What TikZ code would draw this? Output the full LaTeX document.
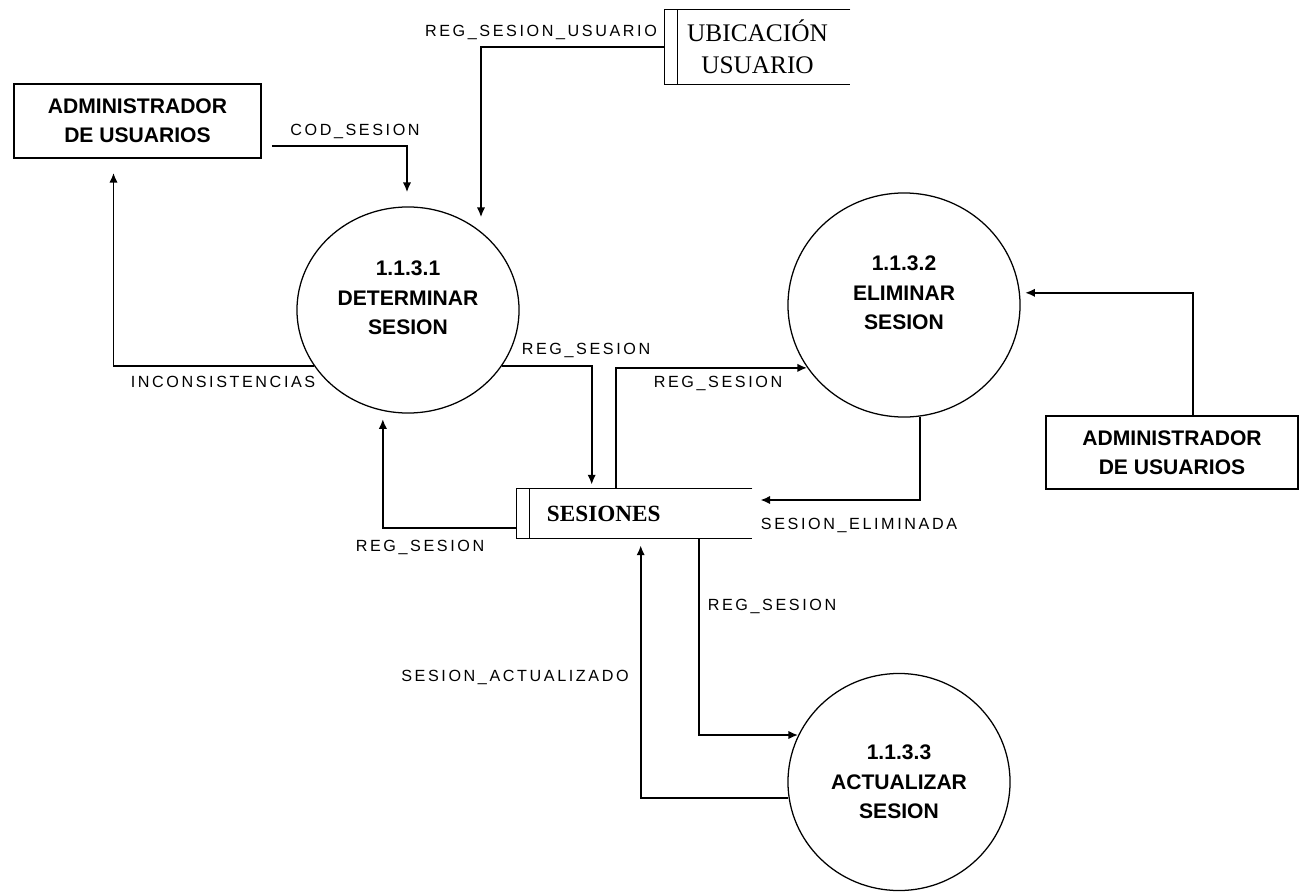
\documentclass[tikz,border=0pt]{standalone}
\usepackage{fontspec}
\usepackage{tikz}
\usetikzlibrary{arrows.meta, shapes.geometric, positioning, calc}
\newfontfamily\procfont{Liberation Sans}
\newfontfamily\etiqfont[LetterSpace=16]{Liberation Sans}
\newfontfamily\almfont{Liberation Serif}
\tikzset{
  ext/.style     = {draw, line width=1.1pt, inner sep=0pt, align=center,
                    font=\procfont\bfseries\fontsize{15}{20.5}\selectfont},
  proc/.style    = {ellipse, draw, line width=0.9pt, inner sep=0pt, align=center,
                    font=\procfont\bfseries\fontsize{15}{21}\selectfont},
  procalto/.style = {proc, text depth=0.6cm},
  almacen/.style = {inner sep=0pt, align=center,
                    font=\almfont\fontsize{18}{22.5}\selectfont},
  linea/.style   = {line width=1.1pt},
  flujo/.style   = {-{Latex[length=7pt,width=6pt]}, line width=1.4pt},
  lbl/.style     = {font=\etiqfont\fontsize{11.5}{13}\selectfont, inner sep=1pt},
}

\begin{document}
\begin{tikzpicture}[x=0.025cm, y=-0.025cm]
  \useasboundingbox (0,0) rectangle (1300,892);

  % entidades externas
  \node[ext, minimum width=6.175cm, minimum height=1.85cm] (admL) at (137.5,121)
    {ADMINISTRADOR\\DE USUARIOS};
  \node[ext, minimum width=6.3cm, minimum height=1.825cm] (admR) at (1172,452.5)
    {ADMINISTRADOR\\DE USUARIOS};

  % procesos
  \node[procalto, minimum width=5.55cm, minimum height=5.15cm] (det) at (408,310)
    {1.1.3.1\\DETERMINAR\\SESION};
  \node[procalto, minimum width=5.8cm, minimum height=5.6cm] (elim) at (904,305)
    {1.1.3.2\\ELIMINAR\\SESION};
  \node[proc, minimum width=5.55cm, minimum height=5.425cm] (act) at (899,782)
    {1.1.3.3\\ACTUALIZAR\\SESION};

  % almacenes
  \node[almacen, minimum width=4.625cm, minimum height=1.85cm] (ubic) at (757.5,47)
    {UBICACIÓN\\USUARIO};
  \node[almacen, text width=4.375cm, inner xsep=0.75cm, minimum height=1.225cm,
        align=left, font=\almfont\bfseries\fontsize{16.5}{20}\selectfont] (ses) at (634.5,513.5)
    {SESIONES};
  \foreach \s in {ubic,ses} {
    \draw[linea] (\s.north east) -- (\s.north west) -- (\s.south west) -- (\s.south east);
    \draw[linea] ($(\s.north west)+(13,0)$) -- ($(\s.south west)+(13,0)$);
  }

  % flujos
  \draw[flujo] ($(admL.east)+(10,25)$) -| ($(det.north)+(-1,-14)$);
  \draw[flujo] (ubic.west) -| ($(det.north)+(73,11)$);
  \draw[flujo] (det.211) -| ($(admL.south)+(-24,14)$);
  \draw[flujo] (det.329) -| ($(ses.north west)+(75,-4)$);
  \draw[flujo] ($(ses.north west)+(99,0)$) |- (elim.213);
  \draw[flujo] (elim.278) |- ($(ses.east)+(8,-13.5)$);
  \draw[flujo] ($(ses.south west)+(182,0)$) |- (act.155);
  \draw[flujo] (act.188) -| ($(ses.south west)+(124,7)$);
  \draw[flujo] ($(ses.west)+(0,14.5)$) -| ($(det.256)+(0,8)$);
  \draw[flujo] ($(admR.north)+(21,0)$) |- ($(elim.6)+(5,0)$);

  % etiquetas
  \node[lbl] (lCod)  at (355,131) {COD\_SESION};
  \node[lbl] (lRsu)  at (541,32)  {REG\_SESION\_USUARIO};
  \node[lbl] (lInc)  at (223,382) {INCONSISTENCIAS};
  \node[lbl] (lReg1) at (586,350) {REG\_SESION};
  \node[lbl] (lReg2) at (718,383) {REG\_SESION};
  \node[lbl] (lElim) at (859,525) {SESION\_ELIMINADA};
  \node[lbl] (lReg3) at (772,606) {REG\_SESION};
  \node[lbl] (lAct)  at (515,677) {SESION\_ACTUALIZADO};
  \node[lbl] (lReg4) at (420,547) {REG\_SESION};
\end{tikzpicture}
\end{document}
